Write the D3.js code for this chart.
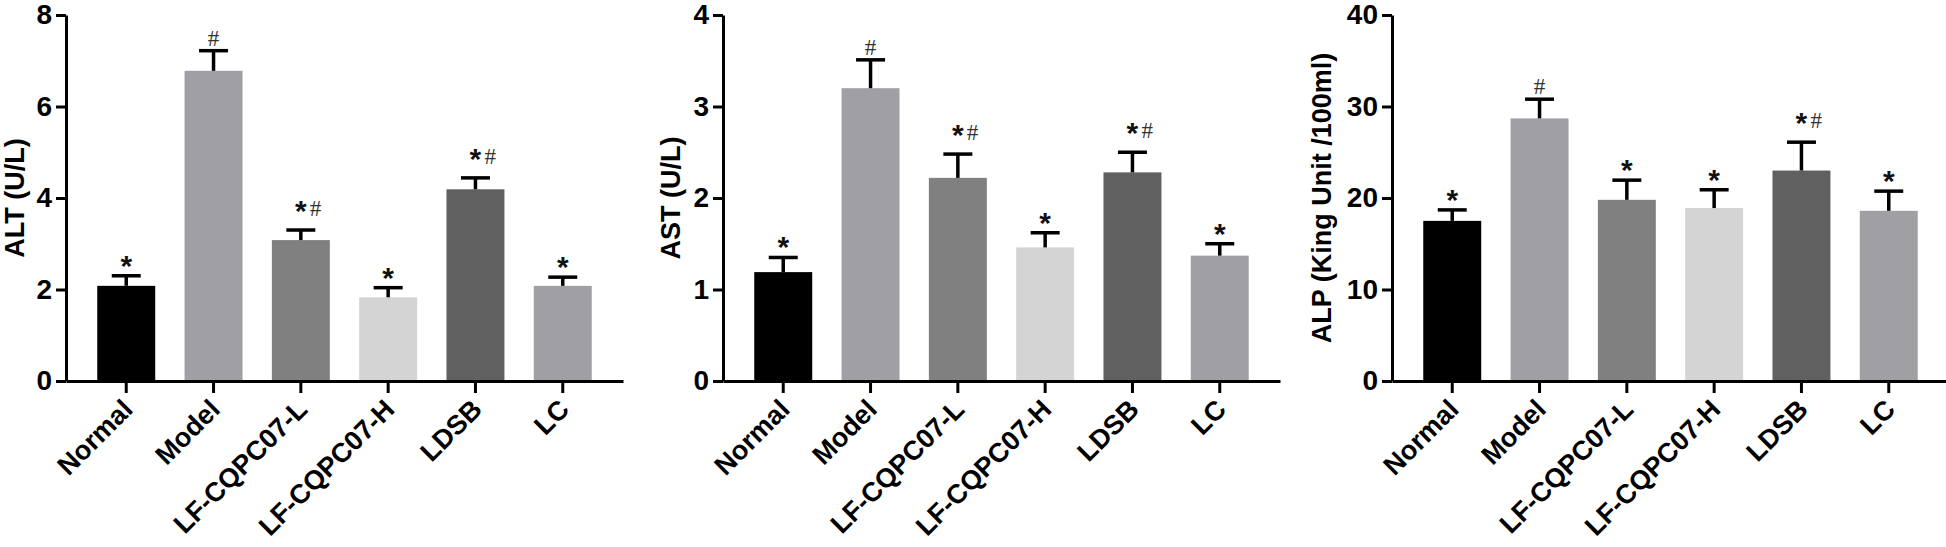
<!DOCTYPE html>
<html>
<head>
<meta charset="utf-8">
<script src="https://cdn.jsdelivr.net/npm/d3@7"></script>
<style>
  html, body { margin: 0; padding: 0; background: #fff; }
  svg { display: block; }
</style>
</head>
<body>
<script>
// ---------------- data ----------------
const categories = ["Normal", "Model", "LF-CQPC07-L", "LF-CQPC07-H", "LDSB", "LC"];
const barColors = ["#000000", "#a0a0a4", "#808080", "#d4d4d4", "#606060", "#a0a0a4"];

const altMeans  = [2.08, 6.78, 3.08, 1.83, 4.19, 2.08];
const altErrors = [0.22, 0.44, 0.22, 0.21, 0.25, 0.19];
const altMarks  = ["*", "#", "*#", "*", "*#", "*"];
const altTicks  = [0, 2, 4, 6, 8];

const astMeans  = [1.19, 3.20, 2.22, 1.46, 2.28, 1.37];
const astErrors = [0.16, 0.31, 0.26, 0.16, 0.22, 0.13];
const astMarks  = ["*", "#", "*#", "*", "*#", "*"];
const astTicks  = [0, 1, 2, 3, 4];

const alpMeans  = [17.5, 28.7, 19.8, 18.9, 23.0, 18.6];
const alpErrors = [1.2, 2.1, 2.15, 2.0, 3.1, 2.15];
const alpMarks  = ["*", "#", "*", "*", "*#", "*"];
const alpTicks  = [0, 10, 20, 30, 40];

const yTitles = ["ALT (U/L)", "AST (U/L)", "ALP (King Unit /100ml)"];

// ---------------- layout ----------------
const W = 1946, H = 547;
const panels = [
  { means: altMeans, errors: altErrors, marks: altMarks, ticks: altTicks, title: yTitles[0], x0: 66,   titleOff: 42 },
  { means: astMeans, errors: astErrors, marks: astMarks, ticks: astTicks, title: yTitles[1], x0: 723,  titleOff: 43 },
  { means: alpMeans, errors: alpErrors, marks: alpMarks, ticks: alpTicks, title: yTitles[2], x0: 1392, titleOff: 61 }
];
const axisW = 557, plotTop = 15, plotBottom = 381;
const sans = "'Liberation Sans', Arial, Helvetica, sans-serif";
const serif = "'Liberation Serif', 'Times New Roman', serif";

const svg = d3.select("body").append("svg")
  .attr("width", W).attr("height", H);

panels.forEach(p => {
  const g = svg.append("g");
  const x = d3.scaleBand().domain(categories)
    .range([p.x0, p.x0 + axisW]).paddingInner(0.336).paddingOuter(0.358);
  const y = d3.scaleLinear().domain([p.ticks[0], p.ticks[p.ticks.length - 1]])
    .range([plotBottom, plotTop]);

  // bars
  g.selectAll("rect.bar").data(categories).join("rect")
    .attr("class", "bar")
    .attr("x", d => x(d))
    .attr("width", x.bandwidth())
    .attr("y", (d, i) => y(p.means[i]))
    .attr("height", (d, i) => y(0) - y(p.means[i]))
    .attr("fill", (d, i) => barColors[i]);

  // error bars (upper only)
  const capW = x.bandwidth() / 2;
  const eg = g.selectAll("g.err").data(categories).join("g").attr("class", "err");
  eg.append("line")
    .attr("x1", d => x(d) + x.bandwidth() / 2)
    .attr("x2", d => x(d) + x.bandwidth() / 2)
    .attr("y1", (d, i) => y(p.means[i]))
    .attr("y2", (d, i) => y(p.means[i] + p.errors[i]))
    .attr("stroke", "#000").attr("stroke-width", 3.5);
  eg.append("line")
    .attr("x1", d => x(d) + x.bandwidth() / 2 - capW / 2)
    .attr("x2", d => x(d) + x.bandwidth() / 2 + capW / 2)
    .attr("y1", (d, i) => y(p.means[i] + p.errors[i]))
    .attr("y2", (d, i) => y(p.means[i] + p.errors[i]))
    .attr("stroke", "#000").attr("stroke-width", 3.5);

  // significance marks
  const mt = g.selectAll("text.mark").data(categories).join("text")
    .attr("class", "mark")
    .attr("x", d => x(d) + x.bandwidth() / 2)
    .attr("y", (d, i) => y(p.means[i] + p.errors[i]))
    .attr("text-anchor", "middle");
  mt.each(function(d, i) {
    const t = d3.select(this);
    const s = p.marks[i];
    const capY = y(p.means[i] + p.errors[i]);
    const combo = s.length > 1;
    for (let k = 0; k < s.length; k++) {
      const ch = s[k];
      if (ch === "*") {
        t.append("tspan").text("*")
          .attr("y", combo ? capY - 9 : capY)
          .attr("font-family", sans).attr("font-weight", "bold")
          .attr("font-size", 30).attr("fill", "#111");
      } else {
        t.append("tspan").text("#")
          .attr("dx", k > 0 ? 3 : 0)
          .attr("y", combo ? capY - 14 : capY - 5)
          .attr("font-family", serif).attr("font-weight", "normal")
          .attr("font-size", 23).attr("fill", "#333");
      }
    }
  });

  // y axis
  const ya = g.append("g")
    .attr("transform", `translate(${p.x0},0)`)
    .call(d3.axisLeft(y).tickValues(p.ticks).tickFormat(d3.format("d"))
      .tickSize(10).tickSizeOuter(0).tickPadding(4));
  ya.selectAll("text").attr("font-family", sans).attr("font-weight", "bold")
    .attr("font-size", 28).attr("fill", "#000");

  // x axis
  const xa = g.append("g")
    .attr("transform", `translate(0,${plotBottom})`)
    .call(d3.axisBottom(x).tickSize(12).tickSizeOuter(0));
  xa.selectAll("text")
    .attr("x", 0).attr("y", 0).attr("dy", 0)
    .attr("text-anchor", "end")
    .attr("transform", "translate(8,30) rotate(-45)")
    .attr("font-family", sans).attr("font-weight", "bold")
    .attr("font-size", 27).attr("fill", "#000");

  [ya, xa].forEach(a => {
    a.selectAll("path.domain").attr("stroke", "#000").attr("stroke-width", 3);
    a.selectAll(".tick line").attr("stroke", "#000").attr("stroke-width", 3);
  });

  // y title
  g.append("text")
    .attr("transform", `translate(${p.x0 - p.titleOff},${(plotTop + plotBottom) / 2}) rotate(-90)`)
    .attr("text-anchor", "middle")
    .attr("font-family", sans).attr("font-weight", "bold")
    .attr("font-size", 27).attr("fill", "#000")
    .text(p.title);
});
</script>
</body>
</html>
